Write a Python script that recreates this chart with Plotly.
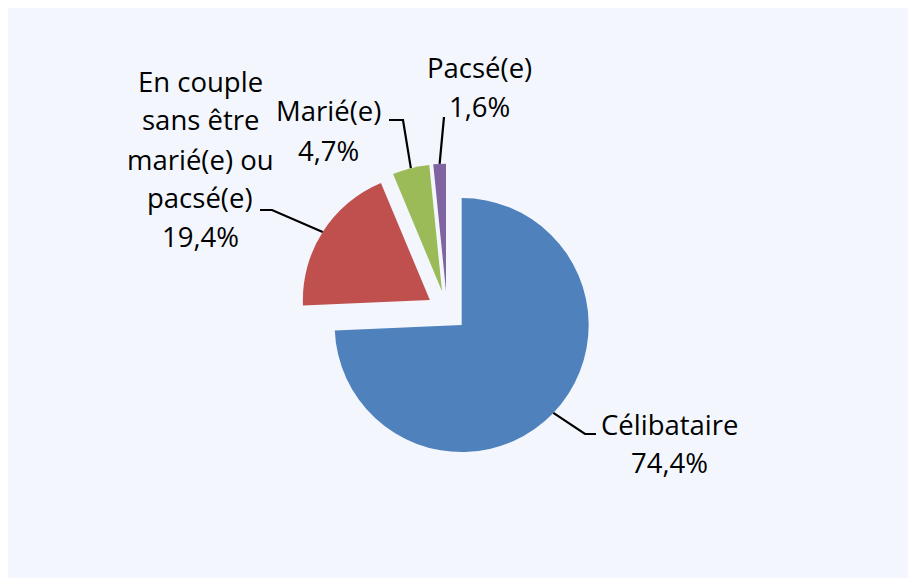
import math

import plotly.graph_objects as go

# Données
categories = ["Célibataire", "En couple\nsans être\nmarié(e) ou\npacsé(e)", "Marié(e)", "Pacsé(e)"]
values = [74.4, 19.4, 4.7, 1.6]
colors = ["#4F81BD", "#C0504D", "#9BBB59", "#8064A2"]

# Mise en page (pixels)
W, H = 908, 578
CX, CY, R, PULL = 447, 311, 127, 0.16
BG = "#F3F7FD"
FONT = "Open Sans"
FONT_SIZE = 27.5
LINE_H = 39

# position du texte (centre x, centre de la 1re ligne y) et coude du trait
label_pos = [(669, 424), (200, 81), (328, 111), (479, 67)]
elbows = [[(585, 434), (596, 434)], [(272, 210), (260, 210)],
          [(403, 120), (389, 120)], [(444, 117)]]


def px(x, y):
    return x / W, 1 - y / H


box = R * (1 + PULL)
fig = go.Figure(go.Pie(
    labels=[c.replace("\n", " ") for c in categories],
    values=values,
    marker=dict(colors=colors, line=dict(width=0)),
    pull=[PULL] * len(values),
    sort=False,
    direction="clockwise",
    rotation=0,
    textinfo="none",
    domain=dict(x=[(CX - box) / W, (CX + box) / W],
                y=[1 - (CY + box) / H, 1 - (CY - box) / H]),
    showlegend=False,
))

shapes = [dict(type="rect", xref="paper", yref="paper", layer="below",
               x0=8 / W, x1=1, y0=0, y1=1 - 8 / H,
               fillcolor=BG, line=dict(width=0))]
annotations = []

total = sum(values)
start = 0.0
for name, v, (lx, ly), elbow in zip(categories, values, label_pos, elbows):
    mid = math.radians((start + v / 2) / total * 360)
    start += v
    # bord extérieur de la part (décalée)
    ex = CX + (R * (1 + PULL)) * math.sin(mid)
    ey = CY - (R * (1 + PULL)) * math.cos(mid)
    pts = [(ex, ey)] + elbow
    path = "M " + " L ".join(f"{px(x, y)[0]},{px(x, y)[1]}" for x, y in pts)
    shapes.append(dict(type="path", xref="paper", yref="paper", path=path,
                       line=dict(color="black", width=2.2)))

    lines = name.split("\n") + [f"{v:.1f}%".replace(".", ",")]
    for i, line in enumerate(lines):
        x, y = px(lx, ly + i * LINE_H)
        annotations.append(dict(
            x=x, y=y, xref="paper", yref="paper", text=line, showarrow=False,
            xanchor="center", yanchor="middle",
            font=dict(family=FONT, size=FONT_SIZE, color="black"),
        ))

fig.update_layout(
    width=W, height=H,
    margin=dict(l=0, r=0, t=0, b=0),
    paper_bgcolor="white",
    plot_bgcolor="white",
    shapes=shapes,
    annotations=annotations,
)

fig.write_html(
    "out.html",
    config=dict(displayModeBar=False),
    post_script="document.body.style.margin='0';document.body.style.overflow='hidden';",
)
